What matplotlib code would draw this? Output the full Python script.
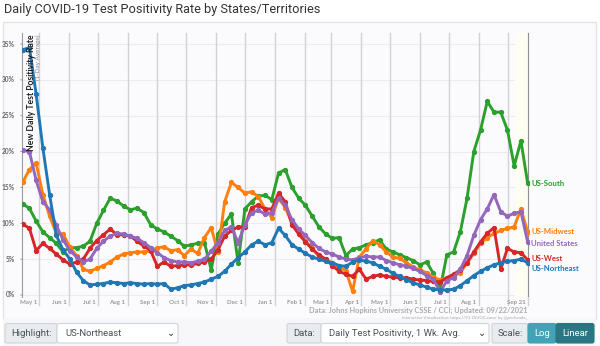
import numpy as np
import matplotlib
matplotlib.use('Agg')
import matplotlib.pyplot as plt
import matplotlib.dates as mdates
from matplotlib.patches import FancyBboxPatch, Rectangle

# weekly points, starting Apr 14 2020 and ending Sep 21 2021
start = np.datetime64('2020-04-14')
dates = start + np.arange(76) * np.timedelta64(7, 'D')

northeast = [34.2, 34.5, 28.0, 20.5, 14.0, 8.3, 6.3, 5.0, 3.2, 2.0,
             1.4, 1.5, 1.6, 1.8, 1.7, 1.6, 1.7, 1.6, 1.5, 1.6,
             1.5, 1.6, 0.8, 1.0, 1.3, 1.4, 1.6, 1.8, 2.2, 2.6,
             3.3, 4.3, 5.2, 6.0, 7.0, 7.5, 7.0, 7.3, 9.3, 8.3,
             7.0, 6.4, 5.8, 5.3, 5.0, 4.7, 4.5, 4.1, 4.0, 4.6,
             4.9, 4.7, 4.5, 4.0, 3.6, 3.0, 2.6, 2.1, 1.7, 1.4,
             1.1, 0.8, 0.7, 0.7, 0.8, 1.3, 2.0, 2.7, 3.3, 3.8,
             4.2, 4.5, 4.7, 4.8, 5.0, 4.5]
south = [12.7, 12.1, 10.3, 8.8, 8.0, 7.2, 6.0, 6.6, 6.6, 6.8,
         7.5, 10.0, 11.8, 13.5, 13.1, 12.4, 11.9, 12.1, 11.5, 9.8,
         9.2, 8.8, 8.2, 7.6, 6.8, 7.0, 7.2, 7.3, 3.5, 8.5,
         10.0, 11.3, 4.5, 12.0, 13.0, 13.8, 13.9, 13.3, 17.0, 17.5,
         15.0, 13.5, 12.5, 11.0, 9.5, 8.5, 7.9, 8.0, 5.5, 6.4,
         6.6, 7.0, 7.3, 7.7, 6.4, 6.0, 5.6, 5.2, 4.8, 4.2,
         4.6, 3.0, 0.8, 5.6, 6.0, 8.8, 13.5, 20.0, 23.0, 27.0,
         25.5, 25.5, 23.0, 18.0, 21.5, 15.6]
west = [9.9, 9.3, 6.2, 7.2, 6.5, 5.7, 4.9, 4.3, 4.6, 5.0,
        6.5, 7.6, 8.4, 9.2, 8.4, 8.4, 8.2, 7.5, 6.8, 6.2,
        4.0, 4.6, 4.0, 4.1, 4.2, 4.2, 4.4, 4.6, 5.0, 6.3,
        8.2, 9.0, 9.5, 9.5, 12.2, 12.5, 12.0, 12.0, 14.2, 13.0,
        9.8, 8.5, 7.4, 6.4, 5.6, 5.0, 4.1, 3.3, 2.9, 2.6,
        3.6, 2.2, 2.6, 2.8, 2.6, 2.5, 2.4, 2.4, 2.2, 2.1,
        2.0, 1.9, 1.8, 2.4, 2.9, 3.5, 4.5, 6.0, 7.4, 8.6,
        9.4, 3.6, 6.5, 6.0, 5.9, 4.9]
midwest = [15.7, 17.5, 18.4, 14.0, 11.0, 8.6, 8.5, 6.7, 5.5, 3.6,
           3.3, 3.7, 4.1, 4.6, 5.3, 5.7, 5.9, 6.0, 6.0, 6.1,
           6.6, 6.7, 6.2, 6.3, 5.5, 6.4, 5.8, 8.0, 9.4, 6.0,
           13.0, 15.7, 15.0, 14.2, 14.4, 13.7, 12.0, 10.8, 13.5, 12.2,
           10.0, 8.8, 7.5, 6.5, 5.4, 4.9, 4.5, 3.9, 3.4, 0.5,
           5.3, 6.4, 7.6, 7.0, 6.0, 5.3, 5.1, 4.5, 3.9, 3.5,
           3.1, 2.5, 2.1, 2.4, 2.7, 3.1, 4.5, 5.8, 7.2, 8.0,
           8.6, 9.0, 9.3, 9.5, 12.0, 8.8]
united_states = [20.2, 20.0, 16.0, 13.0, 11.9, 9.7, 7.7, 6.2, 5.3, 4.6,
                 5.0, 6.5, 7.5, 8.2, 8.6, 8.5, 8.2, 7.9, 7.3, 6.6,
                 5.9, 5.2, 4.8, 4.6, 4.6, 4.5, 4.7, 5.0, 6.1, 7.3,
                 9.0, 9.5, 7.3, 9.8, 11.5, 11.8, 11.3, 11.5, 13.5, 12.5,
                 10.5, 9.2, 8.3, 7.3, 6.5, 6.0, 5.7, 5.3, 5.0, 4.9,
                 5.2, 5.4, 5.3, 5.3, 4.8, 4.5, 4.2, 4.0, 3.7, 3.3,
                 2.7, 2.2, 0.4, 2.0, 2.4, 3.6, 5.5, 8.3, 10.5, 12.0,
                 14.0, 11.6, 11.0, 11.4, 11.6, 7.4]

names = ['US-South', 'US-Midwest', 'US-West', 'United States', 'US-Northeast']
series = [south, midwest, west, united_states, northeast]
colors = ['#2ca02c', '#ff7f0e', '#d62728', '#9467bd', '#1f77b4']
label_nudge = [0, 0, 1, -1, -4]   # points, to keep end labels apart

tick_dates = ['2020-05-01', '2020-06-01', '2020-07-01', '2020-08-01', '2020-09-01',
              '2020-10-01', '2020-11-01', '2020-12-01', '2021-01-01', '2021-02-01',
              '2021-03-01', '2021-04-01', '2021-05-01', '2021-06-01', '2021-07-01',
              '2021-08-01', '2021-09-01', '2021-09-21']
tick_labels = ['May 1', 'Jun 1', 'Jul 1', 'Aug 1', 'Sep 1', 'Oct 1', 'Nov 1', 'Dec 1',
               'Jan 1', 'Feb 1', 'Mar 1', 'Apr 1', 'May 1', 'Jun 1', 'Jul 1', 'Aug 1',
               '', 'Sep 21']
y_ticks = [0, 5, 10, 15, 20, 25, 30, 35]

W, H = 600, 346
fig = plt.figure(figsize=(W / 100, H / 100), dpi=100)
fig.patch.set_facecolor('white')

# pixel-space background layer for card, title and controls
bg = fig.add_axes([0, 0, 1, 1], zorder=0)
bg.set_xlim(0, W)
bg.set_ylim(H, 0)
bg.axis('off')
bg.add_patch(Rectangle((3, 22), 593, 297, facecolor='#fbfbfd', edgecolor='#e3e3e6', lw=1))
bg.add_patch(Rectangle((3, 319), 593, 27, facecolor='#f7f7f9', edgecolor='none'))
bg.text(4, 10, 'Daily COVID-19 Test Positivity Rate by States/Territories',
        fontsize=9.2, family='Roboto', color='#333333', va='center', ha='left')

bg.text(528, 310, 'Data: Johns Hopkins University CSSE / CCI; Updated: 09/22/2021',
        fontsize=5.3, family='Lato', fontweight='bold', color='#aaaaaa', ha='right', va='center')
bg.text(528, 318, 'Interactive Visualization: https://91-DIVOC.com/ by @profwade_',
        fontsize=3.2, family='Lato', color='#aaaaaa', ha='right', va='center')


def ctrl_box(x0, x1, face, edge, text, tcolor, tx=None, ha='center', chevron=False):
    bg.add_patch(FancyBboxPatch((x0, 323.5), x1 - x0, 19.5, boxstyle='round,pad=0,rounding_size=2',
                                facecolor=face, edgecolor=edge, lw=0.8))
    if tx is None:
        tx = (x0 + x1) / 2
    bg.text(tx, 333.5, text, fontsize=6.8, family='Roboto', color=tcolor, ha=ha, va='center')
    if chevron:
        bg.text(x1 - 7, 332.5, '\u2304', fontsize=7, family='DejaVu Sans', color='#333',
                ha='center', va='center')


ctrl_box(5, 57, '#e9ecef', '#ced4da', 'Highlight:', '#495057')
ctrl_box(57, 178, 'white', '#ced4da', 'US-Northeast', '#495057', tx=65, ha='left', chevron=True)
ctrl_box(287, 321, '#e9ecef', '#ced4da', 'Data:', '#495057')
ctrl_box(321, 489, 'white', '#ced4da', 'Daily Test Positivity, 1 Wk. Avg.', '#495057',
         tx=329, ha='left', chevron=True)
ctrl_box(492, 528, '#e9ecef', '#ced4da', 'Scale:', '#495057')
ctrl_box(528, 556, '#42a2b6', '#42a2b6', 'Log', 'white')
ctrl_box(556, 594, '#2b7683', '#2b7683', 'Linear', 'white')

# main chart
ax = fig.add_axes([22 / W, (H - 297) / H, 507 / W, (297 - 33) / H], zorder=1)
ax.set_facecolor('#fbfbfe')
may1 = mdates.date2num(np.datetime64('2020-05-01'))
ax.set_xlim(may1 - 17.7, may1 + 509.4)
ax.set_ylim(-0.28, 36.54)
for s in ['top', 'right', 'bottom']:
    ax.spines[s].set_visible(False)
ax.spines['left'].set_color('#9a9a9a')
ax.spines['left'].set_linewidth(0.8)
ax.set_xticks([])
ax.set_yticks([])

for v in y_ticks:
    ax.axhline(v, color='#ebebf0', lw=0.8, zorder=0)
    ax.annotate(f'{v}%', xy=(0, v), xycoords=('axes fraction', 'data'), xytext=(-5, 0),
                textcoords='offset points', ha='right', va='center', fontsize=4.8,
                family='Lato', fontweight='bold', color='#666666')
    ax.annotate('', xy=(0, v), xycoords=('axes fraction', 'data'), xytext=(-3, 0),
                textcoords='offset points',
                arrowprops=dict(arrowstyle='-', color='#888888', lw=0.6))

# pale band for the most recent, still incomplete days
ax.axvspan(mdates.date2num(np.datetime64('2021-09-08')), mdates.date2num(np.datetime64('2021-09-22')),
           color='#fdfdf1', zorder=0, lw=0)

for d, lab in zip(tick_dates, tick_labels):
    xd = mdates.date2num(np.datetime64(d))
    ax.axvline(xd, ymin=-0.03, ymax=1, color='#d2d2d6', lw=1.0, zorder=0.5, clip_on=False)
    if lab:
        ax.annotate(lab, xy=(xd, 0), xycoords=('data', 'axes fraction'), xytext=(-1.5, -2),
                    textcoords='offset points', ha='right', va='top', fontsize=4.4,
                    family='Lato', fontweight='bold', color='#999999')
ax.axvline(mdates.date2num(np.datetime64('2021-09-22')), color='#8a8a8a', lw=1.3, zorder=1)

xs = mdates.date2num(dates)
for name, vals, c, nudge in zip(names, series, colors, label_nudge):
    ax.plot(xs, vals, color=c, lw=2.1, marker='o', ms=2.8, zorder=3)
    ax.annotate(name, xy=(xs[-1], vals[-1]), xytext=(2.5, nudge), textcoords='offset points',
                ha='left', va='center', fontsize=5.6, family='Lato', fontweight='bold',
                color=c, annotation_clip=False)

ax.text(0.018, 0.995, 'New Daily Test Positivity Rate', transform=ax.transAxes, rotation=90,
        ha='center', va='top', fontsize=6.2, family='Lato', fontweight='bold', color='#222222')
ax.text(0.033, 0.995, '(1-Day Average)', transform=ax.transAxes, rotation=90,
        ha='center', va='top', fontsize=4.6, family='Lato', color='#888888')

fig.savefig('out.png', dpi=100)
